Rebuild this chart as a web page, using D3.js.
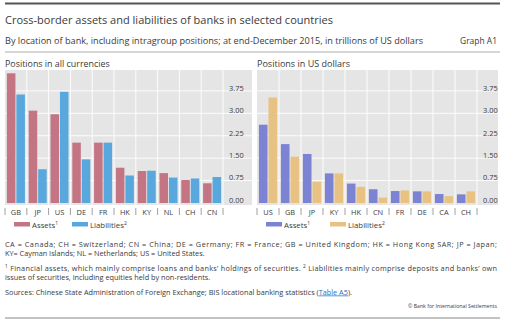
<!DOCTYPE html>
<html><head><meta charset="utf-8">
<script src="https://cdn.jsdelivr.net/npm/d3@7"></script>
<style>
html,body{margin:0;padding:0;background:#fff;}
svg text{font-family:"Open Sans","Noto Sans",sans-serif;fill:#3a3a3a;}
</style></head>
<body>
<svg id="c" width="506" height="324"></svg>
<script>
// ---- data ----
const catsAll = ["GB","JP","US","DE","FR","HK","KY","NL","CH","CN"];
const assetsAll = [4.34, 3.09, 2.97, 2.02, 2.02, 1.18, 1.07, 1.00, 0.77, 0.66];
const liabAll   = [3.63, 1.13, 3.72, 1.46, 2.02, 0.92, 1.08, 0.85, 0.82, 0.87];
const catsUsd = ["US","GB","JP","KY","HK","CN","FR","DE","CA","CH"];
const assetsUsd = [2.62, 1.97, 1.64, 0.99, 0.65, 0.46, 0.40, 0.39, 0.30, 0.29];
const liabUsd   = [3.53, 1.55, 0.71, 0.99, 0.54, 0.18, 0.42, 0.39, 0.23, 0.39];
const yTicks = [0, 0.75, 1.5, 2.25, 3, 3.75];
const seriesNames = ["Assets", "Liabilities"];

const svg = d3.select("#c");

function fitText(sel, width) {
  const w = sel.node().getComputedTextLength();
  const fs = parseFloat(sel.attr("font-size"));
  sel.attr("font-size", (fs * width / w).toFixed(2));
  return sel;
}

// header
svg.append("line").attr("x1",5).attr("x2",500).attr("y1",3.5).attr("y2",3.5)
  .attr("stroke","#555").attr("stroke-width",2);
fitText(svg.append("text").attr("x",5).attr("y",24).attr("font-size",11)
  .text("Cross-border assets and liabilities of banks in selected countries"), 328);
fitText(svg.append("text").attr("x",5).attr("y",44).attr("font-size",7.5)
  .text("By location of bank, including intragroup positions; at end-December 2015, in trillions of US dollars"), 419);
fitText(svg.append("text").attr("x",497).attr("y",44).attr("font-size",7.5).attr("text-anchor","end")
  .text("Graph A1"), 37);
svg.append("line").attr("x1",5).attr("x2",500).attr("y1",52).attr("y2",52)
  .attr("stroke","#999").attr("stroke-width",0.8);

function panel(opts) {
  const g = svg.append("g");
  fitText(g.append("text").attr("x",opts.x0).attr("y",67).attr("font-size",7.5).text(opts.title), opts.titleW);
  const yTop = 70, yZero = 203, yBot = 205;
  const y = d3.scaleLinear().domain([0, 4.45]).range([yZero, yTop]);
  const x = d3.scaleBand().domain(opts.cats).range([opts.x0, opts.x1]).paddingInner(0).paddingOuter(0);
  const xs = d3.scaleBand().domain(seriesNames).range([0, x.bandwidth()]).paddingInner(0.1).paddingOuter(0.2);
  g.append("rect").attr("x",opts.x0).attr("y",yTop).attr("width",opts.gx1-opts.x0).attr("height",yBot-yTop)
    .attr("fill","#e5e5e5");
  // grid
  g.selectAll(".hg").data(yTicks.slice(1)).join("line")
    .attr("x1",opts.x0).attr("x2",opts.gx1).attr("y1",d=>y(d)).attr("y2",d=>y(d))
    .attr("stroke","#fff").attr("stroke-width",0.9);
  const bounds = opts.cats.map(c=>x(c)).concat([opts.x1]);
  g.selectAll(".vg").data(bounds.slice(1)).join("line")
    .attr("x1",d=>d).attr("x2",d=>d).attr("y1",yTop).attr("y2",yBot)
    .attr("stroke","#fff").attr("stroke-width",0.9);
  // bars
  const rows = opts.cats.map((c,i)=>({c, v:[opts.a[i], opts.l[i]]}));
  const grp = g.selectAll(".cat").data(rows).join("g").attr("transform",d=>`translate(${x(d.c)},0)`);
  grp.selectAll("rect").data(d=>d.v.map((v,j)=>({s:seriesNames[j], v}))).join("rect")
    .attr("x",d=>xs(d.s)).attr("width",xs.bandwidth())
    .attr("y",d=>y(d.v)).attr("height",d=>yZero-y(d.v))
    .attr("fill",d=>d.s==="Assets"?opts.colA:opts.colL);
  // y axis labels
  const ya = d3.axisRight(y).tickValues(yTicks).tickFormat(d3.format(".2f")).tickSize(0).tickPadding(0);
  const yg = g.append("g").attr("transform",`translate(${opts.x1+6},-3)`).call(ya);
  yg.select(".domain").remove();
  yg.selectAll("text").attr("font-size",7.4).attr("fill","#3a3a3a")
    .style("font-family",'"Open Sans","Noto Sans",sans-serif');
  // x axis
  const xa = d3.axisBottom(x).tickSize(0).tickPadding(0);
  const xg = g.append("g").attr("transform",`translate(0,${yBot})`).call(xa);
  xg.select(".domain").remove();
  xg.selectAll("text").attr("font-size",7.4).attr("dy","0").attr("y",9.8).attr("fill","#3a3a3a")
    .style("font-family",'"Open Sans","Noto Sans",sans-serif');
  g.selectAll(".tk").data(bounds).join("line")
    .attr("x1",d=>d).attr("x2",d=>d).attr("y1",yBot+3).attr("y2",yBot+10)
    .attr("stroke","#888").attr("stroke-width",0.8);
  // legend
  const lg = [
    {s:"Assets", sup:"1", col:opts.colA, x:opts.legX[0]},
    {s:"Liabilities", sup:"2", col:opts.colL, x:opts.legX[1]}
  ];
  lg.forEach(d=>{
    g.append("rect").attr("x",d.x).attr("y",222).attr("width",16).attr("height",4.5).attr("fill",d.col);
    const t = g.append("text").attr("x",d.x+18).attr("y",227.5).attr("font-size",7.8).text(d.s);
    t.append("tspan").attr("font-size",5).attr("dy",-3).text(d.sup);
  });
}

panel({title:"Positions in all currencies", titleW:105, x0:5, x1:223, gx1:252,
  cats:catsAll, a:assetsAll, l:liabAll, colA:"#c47584", colL:"#58a8de", legX:[14,72]});
panel({title:"Positions in US dollars", titleW:93, x0:257, x1:477, gx1:498,
  cats:catsUsd, a:assetsUsd, l:liabUsd, colA:"#7c83d3", colL:"#e8c283", legX:[266,330]});

// footer
const fs = 7.3;
svg.append("text").attr("x",5).attr("y",246.5).attr("font-size",fs).attr("textLength",492).attr("lengthAdjust","spacing")
  .text("CA = Canada; CH = Switzerland; CN = China; DE = Germany; FR = France; GB = United Kingdom; HK = Hong Kong SAR; JP = Japan;");
svg.append("text").attr("x",5).attr("y",256).attr("font-size",fs)
  .text("KY= Cayman Islands; NL = Netherlands; US = United States.");
const f1 = svg.append("text").attr("x",5).attr("y",270.5).attr("font-size",fs).attr("textLength",492).attr("lengthAdjust","spacing");
f1.append("tspan").attr("font-size",4.8).attr("dy",-2.8).text("1");
f1.append("tspan").attr("dy",2.8).text(" Financial assets, which mainly comprise loans and banks’ holdings of securities.  ");
f1.append("tspan").attr("font-size",4.8).attr("dy",-2.8).text("2");
f1.append("tspan").attr("dy",2.8).text(" Liabilities mainly comprise deposits and banks’ own");
svg.append("text").attr("x",5).attr("y",280).attr("font-size",fs)
  .text("issues of securities, including equities held by non-residents.");
const src = svg.append("text").attr("x",5).attr("y",294.5).attr("font-size",fs);
src.append("tspan").text("Sources: Chinese State Administration of Foreign Exchange; BIS locational banking statistics (");
src.append("tspan").attr("text-decoration","underline").style("fill","#2a6ebb").text("Table A5");
src.append("tspan").text(").");
svg.append("text").attr("x",497).attr("y",308).attr("font-size",5.2).attr("text-anchor","end")
  .text("© Bank for International Settlements");
svg.append("line").attr("x1",5).attr("x2",500).attr("y1",318).attr("y2",318)
  .attr("stroke","#888").attr("stroke-width",1.2);
</script>
</body></html>
